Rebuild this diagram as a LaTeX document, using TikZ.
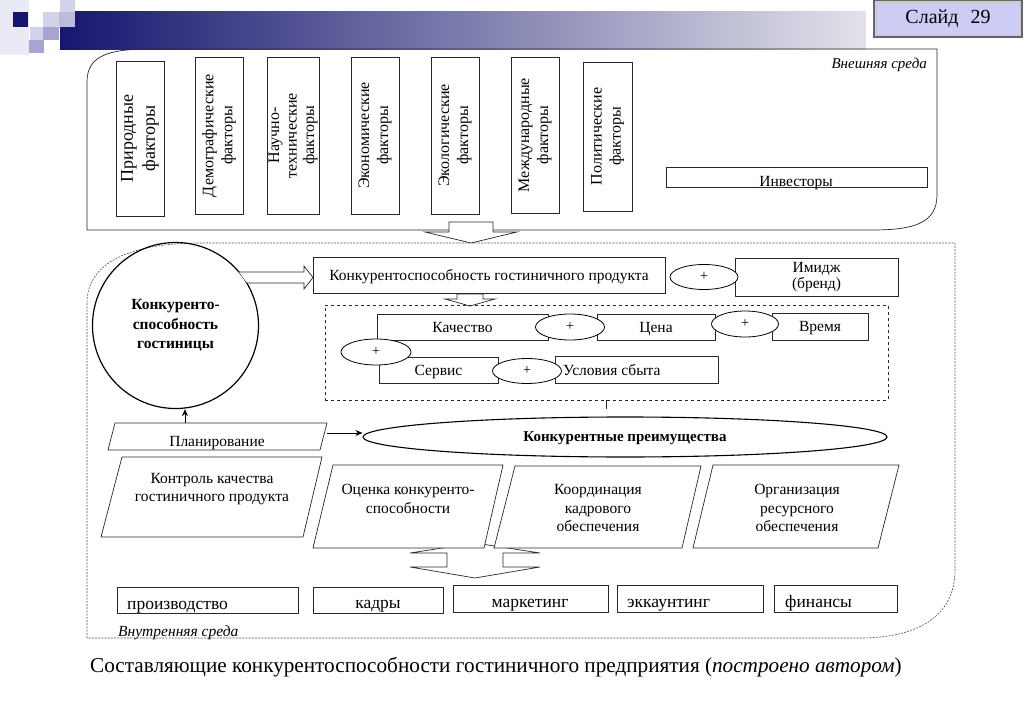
\documentclass[tikz,border=0pt]{standalone}
\usepackage{fontspec}
\setmainfont{Liberation Serif}
\usetikzlibrary{shapes.geometric,arrows.meta}
\newcommand\fsz[2]{\fontsize{#1pt}{#2pt}\selectfont}
\definecolor{navy}{RGB}{22,22,112}
\definecolor{barend}{RGB}{226,226,234}
\definecolor{lavA}{RGB}{234,234,246}
\definecolor{lavB}{RGB}{210,210,234}
\definecolor{lavC}{RGB}{165,165,208}
\definecolor{slidefill}{RGB}{204,204,244}
\definecolor{ln}{RGB}{40,40,40}
\begin{document}
\begin{tikzpicture}[x=1pt,y=-1pt,
  bx/.style={draw=ln,line width=0.7pt,fill=white,inner sep=0pt},
  fbox/.style={bx,rotate=90,align=center,font=\fsz{16}{19}},
  tb/.style={bx,align=center,font=\fsz{15.5}{16}},
  one/.style={text depth=0pt},
  txt/.style={inner sep=0pt,align=center,font=\fsz{15.5}{18.5}},
  btxt/.style={inner sep=0pt,anchor=base,font=\fsz{17.5}{20}},
  pl/.style={draw=black,ellipse,line width=0.8pt,fill=white,inner sep=0pt,minimum width=68pt,minimum height=25pt,font=\fsz{14}{16}},
  para/.style={draw=ln,line width=0.7pt,fill=white},
  hollow/.style={draw=ln,line width=0.7pt,fill=white,line join=miter},
  env/.style={draw=ln!80,line width=0.6pt,dash pattern=on 2pt off 1.2pt},
  conn/.style={draw=black,line width=0.9pt,-{Stealth[length=7pt,width=6pt]}}
]
\useasboundingbox (0,0) rectangle (1024,708);
\fill[white] (0,0) rectangle (1024,708);

% --- banner ---
\shade[left color=navy,right color=barend] (60,12) rectangle (866,50);
\fill[lavA] (0,0) rectangle (29,55);
\fill[navy] (13,12) rectangle (28,27);
\fill[lavB] (60,0) rectangle (75,12);
\fill[lavB] (43,12) rectangle (59,27);
\fill[lavC!75] (59,12) rectangle (75,27);
\fill[lavB] (30,27) rectangle (43,40);
\fill[lavC] (43,27) rectangle (59,40);
\fill[lavC] (29,40) rectangle (44,53);

\node[draw=black!60,line width=2pt,fill=slidefill,minimum width=148pt,minimum height=37pt,inner sep=0pt,font=\fsz{20}{24}] (slide) at (948,18.5) {Слайд\hspace{0.6em}29};
\draw[gray!45,line width=0.8pt] ([shift={(3pt,-3pt)}]slide.north west) rectangle ([shift={(-3pt,3pt)}]slide.south east);

% --- external environment ---
\draw[draw=ln,line width=0.7pt] (87,230) -- (87,82) .. controls (87,56) and (108,49) .. (150,49) -- (937,49) -- (937,195) .. controls (937,224) and (912,230) .. (872,230) -- cycle;
\node[anchor=east,inner sep=0pt,font=\itshape\fsz{15}{18}] (ext) at (927,65) {Внешняя среда};

\node[fbox,minimum width=155pt,minimum height=48pt,font=\fsz{18}{22}] (f1) at (140,138.5) {Природные\\факторы};
\node[fbox,minimum width=157pt,minimum height=48pt] (f2) at (219,135.5) {Демографические\\факторы};
\node[fbox,minimum width=157pt,minimum height=52pt,font=\fsz{16}{17.5}] (f3) at (293,135.5) {Научно-\\технические\\факторы};
\node[fbox,minimum width=157pt,minimum height=48pt] (f4) at (375,135.5) {Экономические\\факторы};
\node[fbox,minimum width=157pt,minimum height=48pt] (f5) at (455,135.5) {Экологические\\факторы};
\node[fbox,minimum width=156pt,minimum height=48pt] (f6) at (535,135) {Международные\\факторы};
\node[fbox,minimum width=149pt,minimum height=49pt] (f7) at (607.5,136.5) {Политические\\факторы};
\node[bx,minimum width=261pt,minimum height=20pt] (inv) at (796.5,177) {};
\node[txt,one] (invt) at (796,181) {Инвесторы};

% --- internal environment ---
\draw[env] (87,638) -- (87,303) .. controls (87,258) and (140,243) .. (200,243) -- (955,243) -- (955,570) .. controls (955,618) and (915,638) .. (860,638) -- cycle;
\node[anchor=west,inner sep=0pt,font=\itshape\fsz{15.5}{18}] (intl) at (118,633) {Внутренняя среда};

% big arrow ext -> int
\draw[hollow] (449,222) -- (493,222) -- (493,232) -- (517,232) -- (471,243) -- (425,232) -- (449,232) -- cycle;

% circle
\node[draw=black,circle,line width=1.2pt,minimum size=166pt,inner sep=0pt,align=center,font=\bfseries\fsz{15.5}{19.5}] (circ) at (175.5,325.5) {Конкуренто-\\способность\\гостиницы};

% product
\node[tb,one,minimum width=352pt,minimum height=36pt] (prodc) at (489,275) {Конкурентоспособность гостиничного продукта};
\node[tb,minimum width=163pt,minimum height=38pt,font=\fsz{15.5}{15.5}] (brand) at (816.5,277) {Имидж\\(бренд)};
\node[pl] (p1) at (704,277) {+};

% hollow arrow circle -> product
\draw[hollow] (239,272) -- (304,272) -- (304,266) -- (313,277.5) -- (304,289) -- (304,283) -- (247,283);
% small down arrow
\draw[hollow] (457,294) -- (483,294) -- (483,299) -- (495,299) -- (470,306) -- (445,299) -- (457,299) -- cycle;

% dashed group
\node[draw=ln,dashed,line width=0.8pt,minimum width=563pt,minimum height=95pt,inner sep=0pt] (dbox) at (606.5,352.5) {};
\node[tb,one,minimum width=171pt,minimum height=26pt] (kach) at (462.5,327) {Качество};
\node[tb,one,minimum width=118pt,minimum height=26pt] (cena) at (656,327) {Цена};
\node[tb,one,minimum width=96pt,minimum height=27pt] (vrem) at (820,326.5) {Время};
\node[tb,one,minimum width=119pt,minimum height=26pt] (serv) at (438.5,370) {Сервис};
\node[bx,minimum width=163pt,minimum height=27pt] (usl) at (636.5,369.5) {};
\node[txt,one,anchor=west] (uslt) at (563,370) {Условия сбыта};
\node[pl,minimum width=69pt,minimum height=26pt] (p2) at (570,327) {+};
\node[pl,minimum width=67pt,minimum height=26pt] (p3) at (745,324) {+};
\node[pl,minimum width=70pt,minimum height=26pt] (p4) at (376,352) {+};
\node[pl,minimum width=69pt,minimum height=25pt] (p5) at (527,371) {+};

% advantages ellipse
\node[draw=black,ellipse,line width=1.1pt,minimum width=524pt,minimum height=40pt,inner sep=0pt,text depth=0pt,font=\bfseries\fsz{15}{18}] (ka) at (625,437) {Конкурентные преимущества};
\coordinate (dtick) at (606,400);
\draw[draw=ln,line width=0.6pt] (dtick) -- ++(0,9);

% planning
\draw[para] (115,423) -- (327,423) -- (320,450) -- (108,450) -- cycle;
\node[txt,one] (plan) at (217,441) {Планирование};
\coordinate (planR) at (327,433);
\draw[conn] (planR) -- (planR -| ka.west);
\coordinate (planT) at (185,423);
\draw[conn] (planT) -- (planT |- circ.south);

% up-down arrow
\draw[hollow] (475,543) -- (540,553) -- (503,553) -- (503,567) -- (540,567) -- (475,578) -- (410,567) -- (447,567) -- (447,553) -- (410,553) -- cycle;

% parallelograms
\draw[para] (122,457) -- (322,457) -- (303,537) -- (101,537) -- cycle;
\node[txt,font=\fsz{15.5}{17.5}] (kontr) at (212,489) {Контроль качества\\гостиничного продукта};
\draw[para] (333,465) -- (503,465) -- (484,548) -- (313,548) -- cycle;
\node[txt] (ocen) at (408,499) {Оценка конкуренто-\\способности};
\draw[para] (515,466) -- (701,466) -- (682,548) -- (494,548) -- cycle;
\node[txt] (koord) at (598,508) {Координация\\кадрового\\обеспечения};
\draw[para] (713,465) -- (899,465) -- (878,548) -- (693,548) -- cycle;
\node[txt] (org) at (797,508) {Организация\\ресурсного\\обеспечения};

% bottom boxes
\node[bx,minimum width=181pt,minimum height=26pt] (proizv) at (207.5,600) {};
\node[btxt,anchor=base west] (proizvt) at (127,609) {производство};
\node[bx,minimum width=130pt,minimum height=26pt] (kadry) at (378,600) {};
\node[btxt] (kadryt) at (378,608) {кадры};
\node[bx,minimum width=155pt,minimum height=27pt] (mark) at (530.5,598.5) {};
\node[btxt] (markt) at (530,607) {маркетинг};
\node[bx,minimum width=146pt,minimum height=27pt] (ekk) at (690,598.5) {};
\node[btxt,anchor=base west] (ekkt) at (627,607) {эккаунтинг};
\node[bx,minimum width=123pt,minimum height=27pt] (fin) at (835.5,598.5) {};
\node[btxt,anchor=base west] (fint) at (785,607) {финансы};

% caption
\node[inner sep=0pt,font=\fsz{21.2}{24}] (cap) at (496,667) {Составляющие конкурентоспособности гостиничного предприятия (\textit{построено автором})};
\end{tikzpicture}
\end{document}
